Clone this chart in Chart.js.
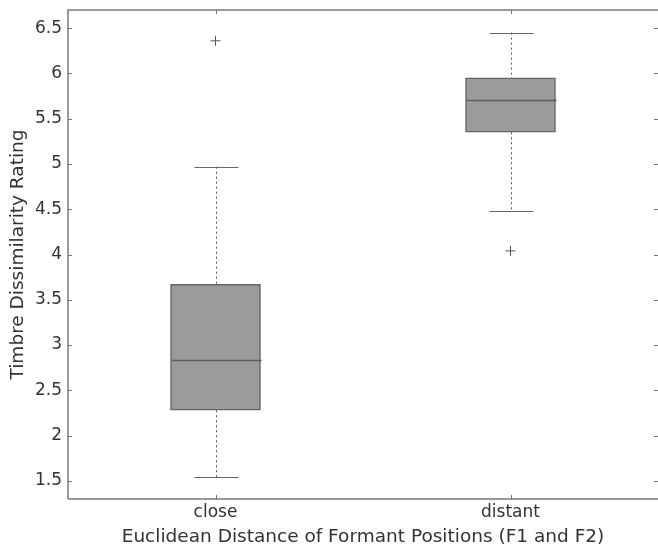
<!DOCTYPE html>
<html>
<head>
<meta charset="utf-8">
<script src="https://cdn.jsdelivr.net/npm/chart.js@4"></script>
<style>
  body { margin: 0; background: #fff; }
  #wrap { width: 658px; height: 550px; }
</style>
</head>
<body>
<div id="wrap"><canvas id="boxChart" width="658" height="550"></canvas></div>
<script>
const categories = ['close', 'distant'];
const lowerWhisker = [1.54, 4.48];
const q1 = [2.28, 5.35];
const median = [2.83, 5.71];
const q3 = [3.67, 5.95];
const upperWhisker = [4.97, 6.45];
const outliers = [
  { x: 'close', y: 6.36 },
  { x: 'distant', y: 4.04 }
];
const yTicks = [1.5, 2, 2.5, 3, 3.5, 4, 4.5, 5, 5.5, 6, 6.5];

const textColor = '#333';
const frameColor = '#9a9a9a';
const font = 'DejaVu Sans';

// whiskers, caps, medians and the inward tick marks
const boxExtras = {
  id: 'boxExtras',
  afterDatasetsDraw(chart) {
    const ctx = chart.ctx;
    const x = chart.scales.x;
    const y = chart.scales.y;
    const area = chart.chartArea;
    ctx.save();

    categories.forEach((c, i) => {
      const cx = Math.round(x.getPixelForValue(i)) + 0.5;
      const capHalf = 22;
      const boxHalf = 45;
      ctx.strokeStyle = '#555';
      ctx.lineWidth = 1;
      // dotted whiskers
      ctx.setLineDash([2, 3]);
      ctx.beginPath();
      ctx.moveTo(cx, y.getPixelForValue(upperWhisker[i]));
      ctx.lineTo(cx, y.getPixelForValue(q3[i]));
      ctx.moveTo(cx, y.getPixelForValue(q1[i]));
      ctx.lineTo(cx, y.getPixelForValue(lowerWhisker[i]));
      ctx.stroke();
      ctx.setLineDash([]);
      // caps
      ctx.strokeStyle = '#666';
      ctx.beginPath();
      [upperWhisker[i], lowerWhisker[i]].forEach(v => {
        const py = Math.round(y.getPixelForValue(v)) + 0.5;
        ctx.moveTo(cx - capHalf, py);
        ctx.lineTo(cx + capHalf, py);
      });
      ctx.stroke();
      // median
      ctx.strokeStyle = '#5e5e5e';
      ctx.lineWidth = 1.5;
      ctx.beginPath();
      const my = Math.round(y.getPixelForValue(median[i])) + 0.5;
      ctx.moveTo(cx - boxHalf, my);
      ctx.lineTo(cx + boxHalf, my);
      ctx.stroke();
    });

    // frame
    ctx.strokeStyle = frameColor;
    ctx.lineWidth = 2;
    ctx.beginPath();
    ctx.moveTo(area.left, area.bottom);
    ctx.lineTo(area.left, area.top);
    ctx.lineTo(area.right, area.top);
    ctx.moveTo(area.left, area.bottom);
    ctx.lineTo(area.right, area.bottom);
    ctx.stroke();

    // inward ticks
    ctx.strokeStyle = '#777';
    ctx.lineWidth = 1;
    ctx.beginPath();
    yTicks.forEach(v => {
      const py = Math.round(y.getPixelForValue(v)) + 0.5;
      ctx.moveTo(area.left, py);
      ctx.lineTo(area.left + 4, py);
      ctx.moveTo(area.right, py);
      ctx.lineTo(area.right - 4, py);
    });
    categories.forEach((c, i) => {
      const px = Math.round(x.getPixelForValue(i)) + 0.5;
      ctx.moveTo(px, area.bottom);
      ctx.lineTo(px, area.bottom - 4);
      ctx.moveTo(px, area.top);
      ctx.lineTo(px, area.top + 4);
    });
    ctx.stroke();
    ctx.restore();
  }
};

new Chart(document.getElementById('boxChart'), {
  type: 'bar',
  data: {
    labels: categories,
    datasets: [{
      type: 'bar',
      data: categories.map((c, i) => [q1[i], q3[i]]),
      backgroundColor: '#9b9b9b',
      borderColor: '#666',
      borderWidth: 1.5,
      borderSkipped: false,
      barThickness: 90
    }, {
      type: 'scatter',
      data: outliers,
      pointStyle: 'cross',
      radius: 5,
      borderColor: '#555',
      borderWidth: 1
    }]
  },
  options: {
    responsive: false,
    animation: false,
    layout: { autoPadding: false, padding: { top: 10, right: 0, left: 0, bottom: 0 } },
    plugins: {
      legend: { display: false },
      tooltip: { enabled: false }
    },
    scales: {
      x: {
        type: 'category',
        offset: true,
        grid: { display: false, drawTicks: false },
        border: { display: false },
        ticks: { color: textColor, font: { family: font, size: 17 }, padding: 3 },
        title: {
          display: true,
          text: 'Euclidean Distance of Formant Positions (F1 and F2)',
          color: textColor,
          font: { family: font, size: 18.5 },
          padding: { top: 2, bottom: 2 }
        },
        afterFit: s => {
          s.height = 51;
          s.paddingLeft = 0;
          s.paddingRight = 0;
        }
      },
      y: {
        min: 1.3,
        max: 6.7,
        grid: { display: false, drawTicks: false },
        border: { display: false },
        afterBuildTicks: s => { s.ticks = yTicks.map(v => ({ value: v })); },
        ticks: {
          color: textColor,
          font: { family: font, size: 17 },
          padding: 6,
          callback: v => String(v)
        },
        title: {
          display: true,
          text: 'Timbre Dissimilarity Rating',
          color: textColor,
          font: { family: font, size: 18.5 },
          padding: { top: 7, bottom: 4 }
        },
        afterFit: s => {
          s.width = 68;
          s.paddingTop = 0;
          s.paddingBottom = 0;
        }
      }
    }
  },
  plugins: [boxExtras]
});
</script>
</body>
</html>
